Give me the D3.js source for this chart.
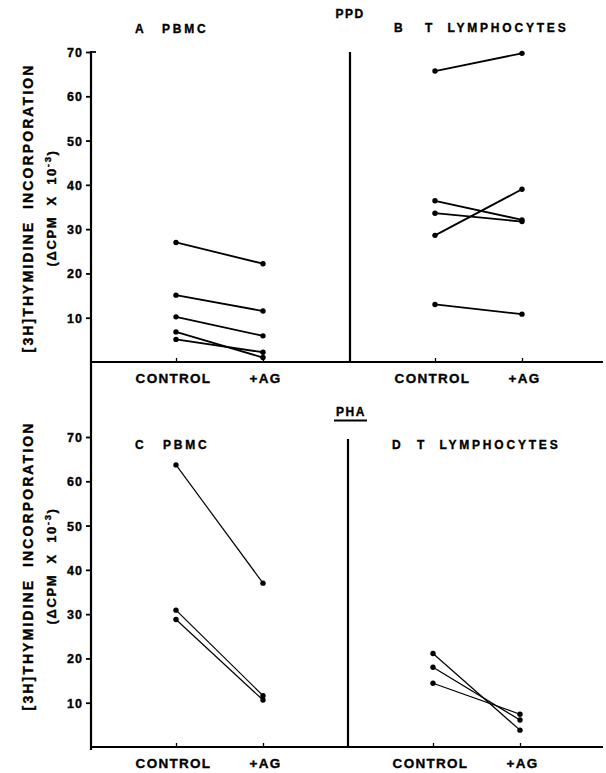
<!DOCTYPE html>
<html>
<head>
<meta charset="utf-8">
<script src="https://cdn.jsdelivr.net/npm/d3@7"></script>
<style>
  html, body { margin: 0; padding: 0; background: #fff; }
  svg { display: block; }
  text { font-family: "Liberation Sans", Arial, Helvetica, sans-serif; font-weight: bold; fill: #000; stroke: #000; stroke-width: 0.35px; }
</style>
</head>
<body>
<svg id="chart" width="606" height="773"></svg>
<script>
// ---- data ----
const categories = ["CONTROL", "+AG"];
const yTickValues = [10, 20, 30, 40, 50, 60, 70];

// PPD, A: PBMC
const ppdPbmcControl = [27.0, 15.1, 10.2, 6.8, 5.1];
const ppdPbmcAG      = [22.2, 11.5, 5.9, 1.0, 2.2];
// PPD, B: T lymphocytes
const ppdTControl = [65.7, 36.4, 33.6, 28.6, 13.0];
const ppdTAG      = [69.7, 32.1, 31.7, 39.0, 10.8];
// PHA, C: PBMC
const phaPbmcControl = [63.7, 30.9, 28.8];
const phaPbmcAG      = [37.0, 11.6, 10.6];
// PHA, D: T lymphocytes
const phaTControl = [21.1, 18.0, 14.4];
const phaTAG      = [3.8, 6.1, 7.4];

// ---- layout ----
const svg = d3.select("#chart");
const axisX = 91;
const rows = [
  { y0: 362, y1: 52, divider: 350, dividerTop: 52, lineW: 1.8, titleY: 208 },
  { y0: 747, y1: 437, divider: 348, dividerTop: 439, lineW: 1.2, titleY: 566 }
];
const yScales = rows.map(r => d3.scaleLinear().domain([0, 70]).range([r.y0, r.y1]));

const panels = [
  { row: 0, left: 91,  letter: "A", title: "PBMC",          lx: 135, tx: 162, ty: 33, c: ppdPbmcControl, a: ppdPbmcAG },
  { row: 0, left: 350, letter: "B", title: "T  LYMPHOCYTES", lx: 394, tx: 425, ty: 32, c: ppdTControl, a: ppdTAG },
  { row: 1, left: 91,  letter: "C", title: "PBMC",          lx: 135, tx: 163, ty: 449, c: phaPbmcControl, a: phaPbmcAG },
  { row: 1, left: 348, letter: "D", title: "T  LYMPHOCYTES", lx: 392, tx: 417, ty: 449, c: phaTControl, a: phaTAG }
];

// continuous left axis line
svg.append("line")
  .attr("x1", axisX).attr("x2", axisX)
  .attr("y1", 51).attr("y2", 750)
  .attr("stroke", "#000").attr("stroke-width", 2.2);

rows.forEach((r, i) => {
  const y = yScales[i];
  const g = svg.append("g").attr("transform", `translate(${axisX},0)`)
    .call(d3.axisLeft(y).tickValues(yTickValues).tickSize(5).tickPadding(4));
  g.select(".domain").remove();
  g.selectAll(".tick line").attr("stroke", "#000").attr("stroke-width", 1.8);
  g.selectAll(".tick text")
    .style("font-size", "12.5px").style("letter-spacing", "1px")
    .attr("x", -8).attr("dy", "0.36em");
  svg.append("line")
    .attr("x1", axisX).attr("x2", 603)
    .attr("y1", y(0)).attr("y2", y(0))
    .attr("stroke", "#000").attr("stroke-width", 2.2);
  svg.append("line")
    .attr("x1", r.divider).attr("x2", r.divider)
    .attr("y1", r.dividerTop).attr("y2", y(0))
    .attr("stroke", "#000").attr("stroke-width", 2.2);
});
svg.append("line").attr("x1", axisX - 1).attr("x2", axisX + 5)
  .attr("y1", yScales[0](70)).attr("y2", yScales[0](70))
  .attr("stroke", "#000").attr("stroke-width", 1.8);

panels.forEach(p => {
  const r = rows[p.row];
  const y = yScales[p.row];
  const x = d3.scalePoint().domain(categories).range([p.left + 85, p.left + 172]);

  const gt = svg.append("g").attr("transform", `translate(0,${y(0)})`)
    .call(d3.axisTop(x).tickSize(4).tickFormat(""));
  gt.select(".domain").remove();
  gt.selectAll(".tick line").attr("stroke", "#000").attr("stroke-width", 1.3);

  const gb = svg.append("g").attr("transform", `translate(0,${y(0)})`)
    .call(d3.axisBottom(x).tickSize(0));
  gb.select(".domain").remove();
  gb.selectAll(".tick text")
    .attr("y", 21).attr("dy", 0).attr("dx", d => d === "CONTROL" ? -3 : 2)
    .style("font-size", "13.5px").style("letter-spacing", "1.3px");

  const pairs = p.c.map((v, i) => [v, p.a[i]]);
  const lineGen = d3.line().x((d, i) => x(categories[i])).y(d => y(d));
  svg.append("g").selectAll("path").data(pairs).join("path")
    .attr("d", d => lineGen(d))
    .attr("fill", "none").attr("stroke", "#000").attr("stroke-width", r.lineW);
  const pts = [];
  pairs.forEach(pr => pr.forEach((v, i) => pts.push({ cat: categories[i], v })));
  svg.append("g").selectAll("circle").data(pts).join("circle")
    .attr("cx", d => x(d.cat)).attr("cy", d => y(d.v)).attr("r", 2.7).attr("fill", "#000");

  svg.append("text").attr("x", p.lx).attr("y", p.ty).text(p.letter)
    .style("font-size", "12px");
  svg.append("text").attr("x", p.tx).attr("y", p.ty).text(p.title)
    .style("font-size", "12px").style("letter-spacing", "2.8px").attr("xml:space", "preserve");
});

svg.append("text").attr("x", 350).attr("y", 18).attr("text-anchor", "middle")
  .text("PPD").style("font-size", "12px").style("letter-spacing", "1.5px");
svg.append("text").attr("x", 351).attr("y", 416).attr("text-anchor", "middle")
  .text("PHA").style("font-size", "12px").style("letter-spacing", "1.5px");
svg.append("line").attr("x1", 334).attr("x2", 367).attr("y1", 420.5).attr("y2", 420.5)
  .attr("stroke", "#000").attr("stroke-width", 1.8);

function yTitle(cy) {
  svg.append("text")
    .attr("transform", `translate(33,${cy}) rotate(-90)`)
    .attr("text-anchor", "middle")
    .style("font-size", "14px").style("letter-spacing", "2.1px")
    .attr("xml:space", "preserve")
    .text("[3H]THYMIDINE  INCORPORATION");
  const t2 = svg.append("text")
    .attr("transform", `translate(56,${cy}) rotate(-90)`)
    .attr("text-anchor", "middle")
    .style("font-size", "13px").style("letter-spacing", "1.6px")
    .attr("xml:space", "preserve");
  t2.append("tspan").text("(\u0394CPM  X  10");
  t2.append("tspan").attr("dy", -5).style("font-size", "9.5px").text("-3");
  t2.append("tspan").attr("dy", 5).text(")");
}
rows.forEach(r => yTitle(r.titleY));
</script>
</body>
</html>
